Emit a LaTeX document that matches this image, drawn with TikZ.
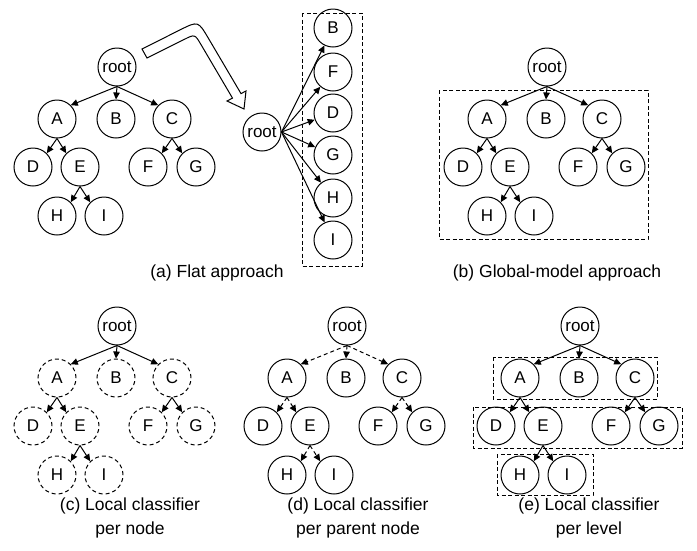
\documentclass[tikz,border=0pt]{standalone}
\usepackage{fontspec}
\setmainfont{Liberation Sans}
\usetikzlibrary{arrows.meta}
\tikzset{
  nd/.style={circle,draw,line width=1pt,minimum size=38pt,inner sep=0pt,font=\fontsize{17}{20}\selectfont},
  dnd/.style={dash pattern=on 4pt off 3pt},
  edge/.style={line width=1pt,-{Triangle[length=7pt,width=6.5pt]}},
  dedge/.style={dash pattern=on 4pt off 3pt},
  dbox/.style={draw,line width=1pt,dash pattern=on 4pt off 2.5pt},
  captxt/.style={font=\fontsize{17.5}{24}\selectfont,align=center,inner sep=0pt},
  hollow/.style={draw,line width=1pt,fill=white,line join=miter}
}
\newcommand\mytree[3]{%
  \node[nd] (#1r) at (117,67) {root};
  \node[nd,#2] (#1A) at (57,119) {A};
  \node[nd,#2] (#1B) at (116,119) {B};
  \node[nd,#2] (#1C) at (172,119) {C};
  \node[nd,#2] (#1D) at (33,167) {D};
  \node[nd,#2] (#1E) at (80,167) {E};
  \node[nd,#2] (#1F) at (148,167) {F};
  \node[nd,#2] (#1G) at (196,167) {G};
  \node[nd,#2] (#1H) at (57,216) {H};
  \node[nd,#2] (#1I) at (104,216) {I};
  \draw[edge,#3] (#1r.south) -- (#1A.north east);
  \draw[edge,#3] (#1r.south) -- (#1B.north);
  \draw[edge,#3] (#1r.south) -- (#1C.north west);
  \draw[edge,#3] (#1A.south) -- (#1D.north east);
  \draw[edge,#3] (#1A.south) -- (#1E.north west);
  \draw[edge,#3] (#1C.south) -- (#1F.north east);
  \draw[edge,#3] (#1C.south) -- (#1G.north west);
  \draw[edge,#3] (#1E.south) -- (#1H.north east);
  \draw[edge,#3] (#1E.south) -- (#1I.north west);
}
\begin{document}
\begin{tikzpicture}[x=1pt,y=-1pt]
\useasboundingbox (0,0) rectangle (697,550);
% (a) hierarchy
\mytree{a}{}{}
% hollow arrow
\draw[hollow] (142,49) -- (180.2,29.8) .. controls (198.1,20.9) .. (208.3,38.1)
  -- (241.0,93.6) -- (246,91) -- (244,109) -- (227,101) -- (232.5,98.1)
  -- (200.9,44.4) .. controls (194.8,34.1) .. (184.1,39.5) -- (147,58) -- cycle;
% flat
\node[nd] (fr) at (262,132) {root};
\node[nd] (fB) at (333,28) {B};
\node[nd] (fF) at (333,72) {F};
\node[nd] (fD) at (333,113) {D};
\node[nd] (fG) at (333,155) {G};
\node[nd] (fH) at (333,198) {H};
\node[nd] (fI) at (333,240) {I};
\foreach \n in {fB,fF,fD,fG,fH,fI} \draw[edge] (fr.east) -- (\n);
\coordinate (fbox1) at (302,13);
\coordinate (fbox2) at (362,266);
\draw[dbox] (fbox1) rectangle (fbox2);
\node[captxt] (capa) at (217,273) {(a) Flat approach};
% (b)
\begin{scope}[shift={(430,0)}]
\mytree{b}{}{}
\end{scope}
\coordinate (bbox1) at (439,90);
\coordinate (bbox2) at (648,239);
\draw[dbox] (bbox1) rectangle (bbox2);
\node[captxt] (capb) at (557,273) {(b) Global-model approach};
% (c)
\begin{scope}[shift={(0,259)}]
\mytree{c}{dnd}{}
\end{scope}
\node[captxt] (capc) at (130,518) {(c) Local classifier\\per node};
% (d)
\begin{scope}[shift={(230,259)}]
\mytree{d}{}{dedge}
\end{scope}
\node[captxt] (capd) at (358,518) {(d) Local classifier\\per parent node};
% (e)
\begin{scope}[shift={(463,259)}]
\mytree{e}{}{}
\end{scope}
\coordinate (ebox1) at (493,357);
\coordinate (ebox2) at (657,399);
\coordinate (ebox3) at (473,407);
\coordinate (ebox4) at (682,448);
\coordinate (ebox5) at (497,454);
\coordinate (ebox6) at (593,495);
\draw[dbox] (ebox1) rectangle (ebox2);
\draw[dbox] (ebox3) rectangle (ebox4);
\draw[dbox] (ebox5) rectangle (ebox6);
\node[captxt] (cape) at (589,518) {(e) Local classifier\\per level};
\end{tikzpicture}
\end{document}
